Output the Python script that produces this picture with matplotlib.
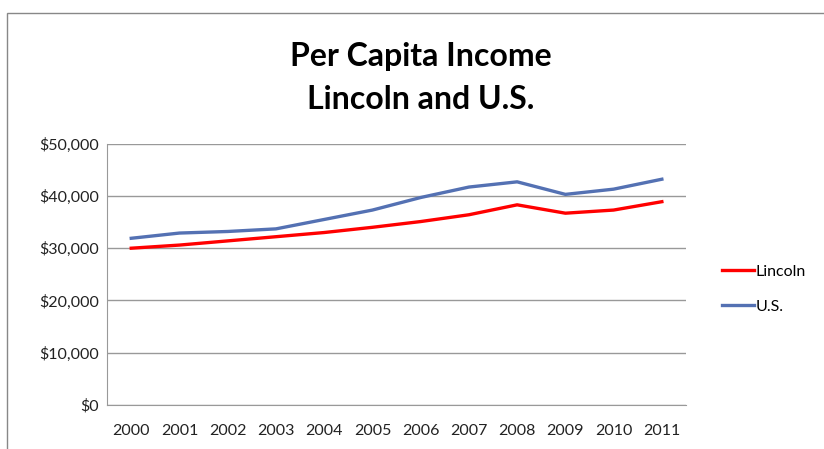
import matplotlib.pyplot as plt
from matplotlib.patches import Rectangle

years = ["2000", "2001", "2002", "2003", "2004", "2005",
         "2006", "2007", "2008", "2009", "2010", "2011"]
lincoln = [30000, 30600, 31400, 32200, 33000, 34000,
           35100, 36400, 38300, 36700, 37300, 38900]
us = [31900, 32900, 33200, 33700, 35500, 37300,
      39700, 41700, 42700, 40300, 41300, 43200]

plt.rcParams['font.family'] = ['Lato', 'DejaVu Sans']

fig = plt.figure(figsize=(8.24, 4.49), dpi=100)
ax = fig.add_axes([0.130, 0.098, 0.7025, 0.582])

x = range(len(years))
ax.plot(x, lincoln, color="#ff0000", lw=2.4, label="Lincoln")
ax.plot(x, us, color="#5471b3", lw=2.4, label="U.S.")

ax.set_xlim(-0.5, len(years) - 0.5)
ax.set_ylim(0, 50000)
ax.set_yticks(range(0, 50001, 10000))
ax.set_yticklabels(["$" + format(v, ",") for v in range(0, 50001, 10000)])
ax.set_xticks(list(x))
ax.set_xticklabels(years)
ax.tick_params(length=0, labelsize=11.5, colors="#222222")
ax.tick_params(axis="y", pad=6)
ax.tick_params(axis="x", pad=14)
ax.grid(axis="y", color="#999999", lw=1)
ax.set_axisbelow(True)
for s in ["top", "right"]:
    ax.spines[s].set_visible(False)
ax.spines["left"].set_color("#999999")
ax.spines["bottom"].set_color("#999999")

fig.text(0.511, 1 - 78 / 449, "Per Capita Income\nLincoln and U.S.",
         ha="center", va="center", fontsize=23, fontweight="bold",
         linespacing=1.6)

fig.legend(loc="center left", bbox_to_anchor=(0.868, 1 - 289 / 449),
           frameon=False, fontsize=11.5, handlelength=2.0,
           handletextpad=0.1, labelspacing=1.3, borderaxespad=0)

fig.patches.append(Rectangle((7 / 824, -0.05), 1.2, 1 - 13 / 449 + 0.05,
                             transform=fig.transFigure, fill=False,
                             edgecolor="#888888", lw=1))

fig.savefig("out.png", dpi=100)
